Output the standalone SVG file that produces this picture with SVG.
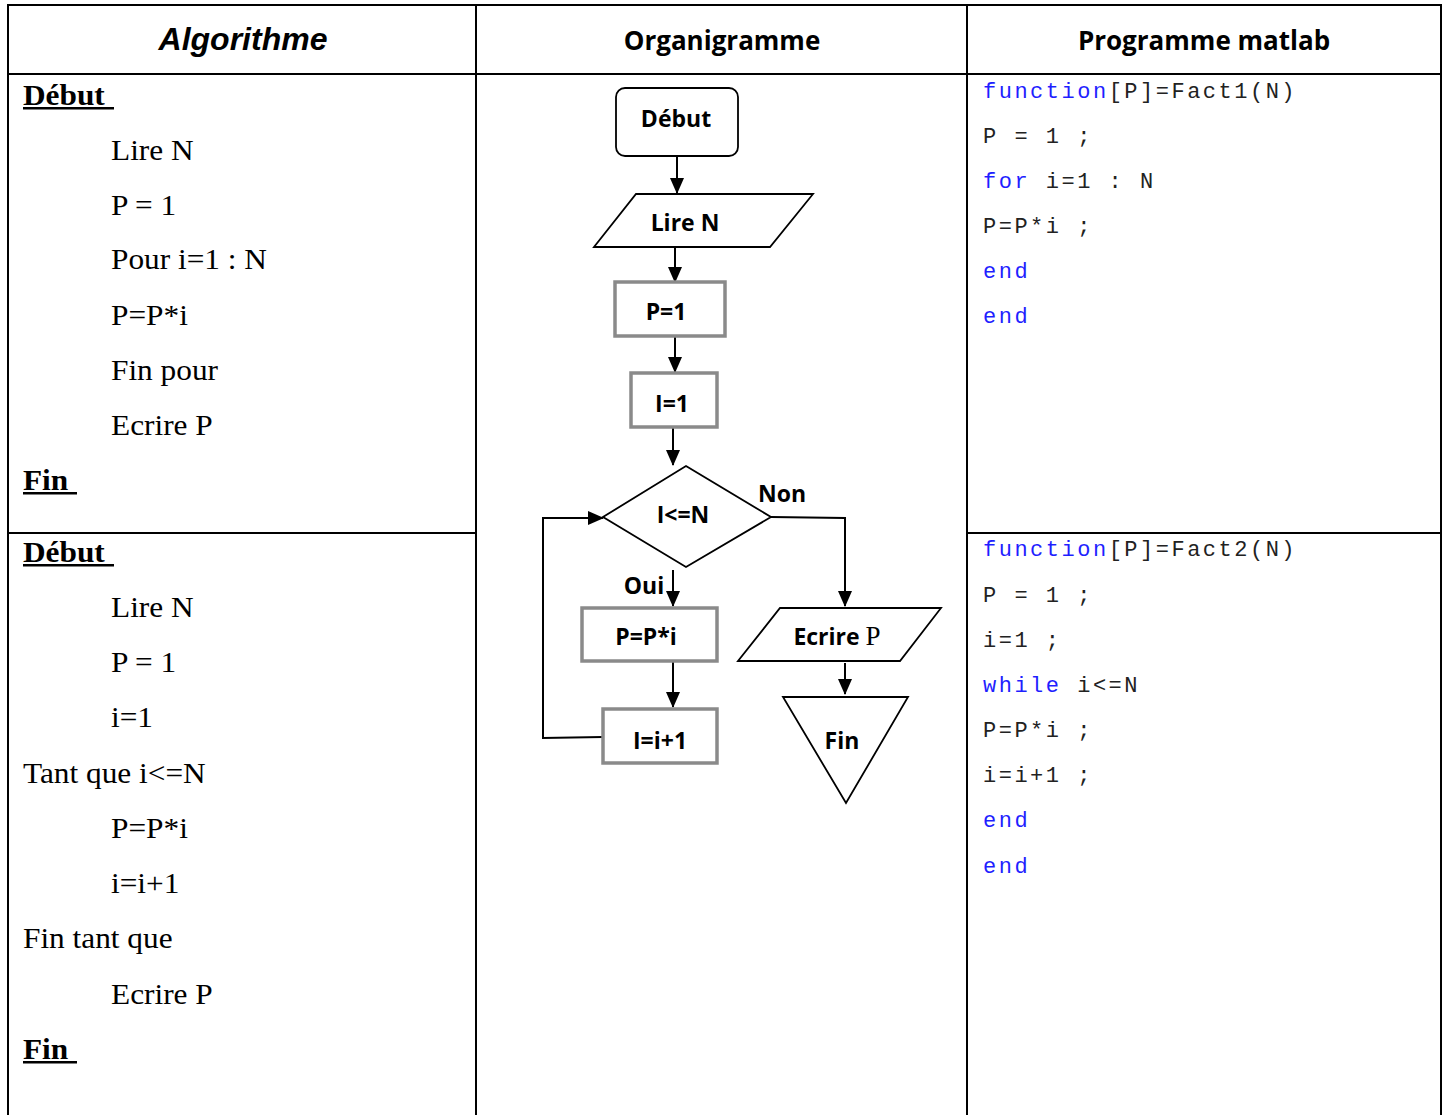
<svg xmlns="http://www.w3.org/2000/svg" width="1443" height="1115" viewBox="0 0 1443 1115">
<style>
.grid{stroke:#000;stroke-width:2;fill:none}
.hd{font-family:"Open Sans","Liberation Sans",sans-serif;font-weight:bold;font-size:26px;fill:#000}
.alg{font-family:"Liberation Serif","Times New Roman",serif;font-size:29px;fill:#000}
.algb{font-family:"Liberation Serif","Times New Roman",serif;font-size:29px;font-weight:bold;fill:#000}
.code{font-family:"Liberation Mono","Courier New",monospace;font-size:22px;letter-spacing:2.5px;fill:#222}
.kw{fill:#1f1fff}
.shape{fill:#fff;stroke:#000;stroke-width:1.8}
.gbox{fill:#fff;stroke:#8a8a8a;stroke-width:3.5}
.lbl{font-family:"Open Sans","Liberation Sans",sans-serif;font-weight:bold;font-size:23px;fill:#000;text-anchor:middle}
.conn{stroke:#000;stroke-width:2;fill:none}
</style>
<defs>
<marker id="arr" markerUnits="userSpaceOnUse" markerWidth="16" markerHeight="16" viewBox="0 0 16 16" refX="15" refY="8" orient="auto">
<path d="M0,1 L16,8 L0,15 Z" fill="#000"/>
</marker>
</defs>
<rect width="1443" height="1115" fill="#fff"/>
<g id="table">
<path class="grid" d="M8,1115 V5 H1441 V1115 M8,74 H1441 M476,5 V1115 M967,5 V1115 M8,533 H476 M967,533 H1441"/>
<text class="hd" x="243" y="50" text-anchor="middle" style="font-family:'Liberation Sans',Arial,sans-serif;font-style:italic;font-size:32px">Algorithme</text>
<text class="hd" x="722" y="50" text-anchor="middle">Organigramme</text>
<text class="hd" x="1204" y="50" text-anchor="middle">Programme matlab</text>
</g>
<g id="algo1">
<g transform="translate(23,0) scale(1.08,1)">
<text class="algb" x="0" y="105">Début</text>
<text class="alg" x="81.5" y="160">Lire N</text>
<text class="alg" x="81.5" y="215">P = 1</text>
<text class="alg" x="81.5" y="269">Pour i=1 : N</text>
<text class="alg" x="81.5" y="325">P=P*i</text>
<text class="alg" x="81.5" y="380">Fin pour</text>
<text class="alg" x="81.5" y="435">Ecrire P</text>
<text class="algb" x="0" y="490">Fin</text>
</g>
<rect x="23" y="107" width="91" height="2.5" fill="#000"/>
<rect x="23" y="492" width="54" height="2.5" fill="#000"/>
</g>
<g id="algo2">
<g transform="translate(23,0) scale(1.08,1)">
<text class="algb" x="0" y="562">Début</text>
<text class="alg" x="81.5" y="617">Lire N</text>
<text class="alg" x="81.5" y="672">P = 1</text>
<text class="alg" x="81.5" y="727">i=1</text>
<text class="alg" x="0" y="783">Tant que i&lt;=N</text>
<text class="alg" x="81.5" y="838">P=P*i</text>
<text class="alg" x="81.5" y="893">i=i+1</text>
<text class="alg" x="0" y="948">Fin tant que</text>
<text class="alg" x="81.5" y="1004">Ecrire P</text>
<text class="algb" x="0" y="1059">Fin</text>
</g>
<rect x="23" y="564" width="91" height="2.5" fill="#000"/>
<rect x="23" y="1061" width="54" height="2.5" fill="#000"/>
</g>
<g id="code1">
<text class="code" x="983" y="98"><tspan class="kw">function</tspan>[P]=Fact1(N)</text>
<text class="code" x="983" y="143">P = 1 ;</text>
<text class="code" x="983" y="188"><tspan class="kw">for</tspan> i=1 : N</text>
<text class="code" x="983" y="233">P=P*i ;</text>
<text class="code kw" x="983" y="278">end</text>
<text class="code kw" x="983" y="323">end</text>
</g>
<g id="code2">
<text class="code" x="983" y="556"><tspan class="kw">function</tspan>[P]=Fact2(N)</text>
<text class="code" x="983" y="602">P = 1 ;</text>
<text class="code" x="983" y="647">i=1 ;</text>
<text class="code" x="983" y="692"><tspan class="kw">while</tspan> i&lt;=N</text>
<text class="code" x="983" y="737">P=P*i ;</text>
<text class="code" x="983" y="782">i=i+1 ;</text>
<text class="code kw" x="983" y="827">end</text>
<text class="code kw" x="983" y="873">end</text>
</g>
<g id="connectors">
<path class="conn" d="M677,156 V193" marker-end="url(#arr)"/>
<path class="conn" d="M675,247 V282" marker-end="url(#arr)"/>
<path class="conn" d="M675,337 V372" marker-end="url(#arr)"/>
<path class="conn" d="M673,428 V465" marker-end="url(#arr)"/>
<path class="conn" d="M771,517 L845,518 V606" marker-end="url(#arr)"/>
<path class="conn" d="M673,570 V606" marker-end="url(#arr)"/>
<path class="conn" d="M673,662 V707" marker-end="url(#arr)"/>
<path class="conn" d="M603,737 L543,738 V518 H603" marker-end="url(#arr)"/>
<path class="conn" d="M845,663 V694" marker-end="url(#arr)"/>
<text class="lbl" x="782" y="502">Non</text>
<text class="lbl" x="644" y="594">Oui</text>
</g>
<g id="n-debut">
<rect class="shape" x="616" y="88" width="122" height="68" rx="9"/>
<text class="lbl" x="676" y="127">Début</text>
</g>
<g id="n-lire">
<polygon class="shape" points="594,247 636,194 813,194 770,247"/>
<text class="lbl" x="685" y="231">Lire N</text>
</g>
<g id="n-p1">
<rect class="gbox" x="615" y="282" width="110" height="54"/>
<text class="lbl" x="666" y="320">P=1</text>
</g>
<g id="n-i1">
<rect class="gbox" x="631" y="373" width="86" height="54"/>
<text class="lbl" x="672" y="412">I=1</text>
</g>
<g id="n-cond">
<polygon class="shape" points="686,466 771,517 686,567 603,517"/>
<text class="lbl" x="683" y="523">I&lt;=N</text>
</g>
<g id="n-ppi">
<rect class="gbox" x="582" y="608" width="135" height="53"/>
<text class="lbl" x="646" y="645">P=P*i</text>
</g>
<g id="n-inc">
<rect class="gbox" x="603" y="709" width="114" height="54"/>
<text class="lbl" x="660" y="749">I=i+1</text>
</g>
<g id="n-ecrire">
<polygon class="shape" points="738,661 780,608 941,608 900,661"/>
<text class="lbl" x="837" y="645">Ecrire <tspan style="font-family:'Liberation Serif',serif;font-weight:normal;font-size:27px">P</tspan></text>
</g>
<g id="n-fin">
<polygon class="shape" points="783,697 908,697 846,803"/>
<text class="lbl" x="842" y="749">Fin</text>
</g>
</svg>
